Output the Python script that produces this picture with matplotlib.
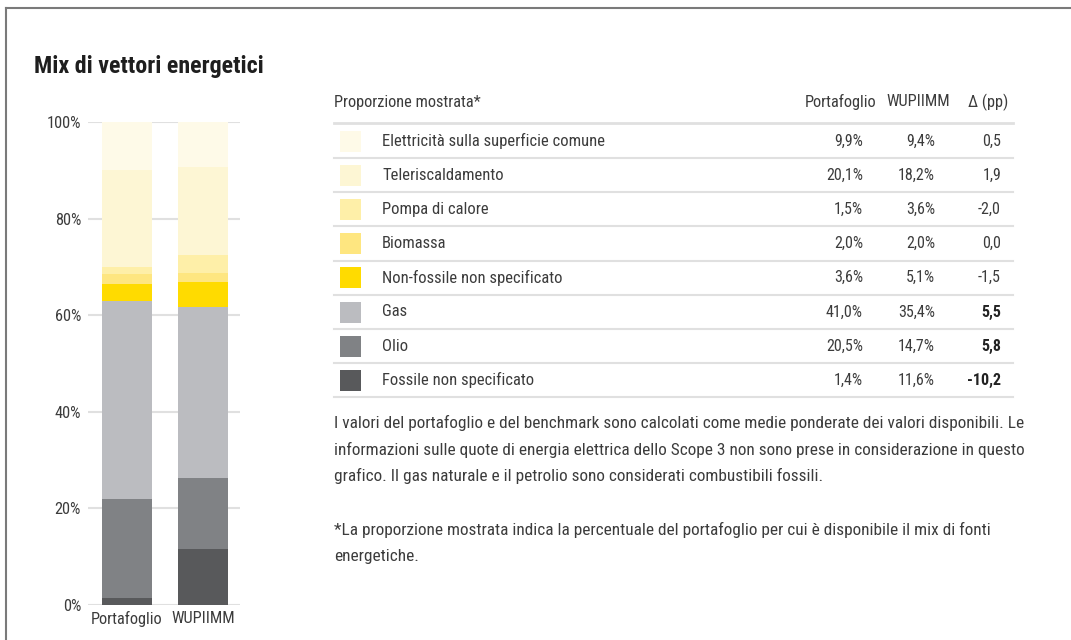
import numpy as np
import matplotlib.pyplot as plt
from matplotlib.patches import Rectangle

plt.rcParams['font.family'] = ['Roboto Condensed', 'Roboto', 'DejaVu Sans']

# dati (ordine della tabella, dall'alto verso il basso)
categorie = ["Elettricità sulla superficie comune", "Teleriscaldamento", "Pompa di calore",
             "Biomassa", "Non-fossile non specificato", "Gas", "Olio", "Fossile non specificato"]
portafoglio = [9.9, 20.1, 1.5, 2.0, 3.6, 41.0, 20.5, 1.4]
wupiimm = [9.4, 18.2, 3.6, 2.0, 5.1, 35.4, 14.7, 11.6]
delta = [0.5, 1.9, -2.0, 0.0, -1.5, 5.5, 5.8, -10.2]
colori = ["#fefae8", "#fdf6d4", "#feefa8", "#fee680", "#ffdb00", "#bbbcc0", "#808285", "#58595b"]
barre = ["Portafoglio", "WUPIIMM"]
note = ["I valori del portafoglio e del benchmark sono calcolati come medie ponderate dei valori disponibili. Le",
        "informazioni sulle quote di energia elettrica dello Scope 3 non sono prese in considerazione in questo",
        "grafico. Il gas naturale e il petrolio sono considerati combustibili fossili.",
        "",
        "*La proporzione mostrata indica la percentuale del portafoglio per cui è disponibile il mix di fonti",
        "energetiche."]

testo = "#3c3c3c"
W, H = 1071, 640
fig = plt.figure(figsize=(W / 100, H / 100), dpi=100)

# asse "a pixel" per cornice, titolo e tabella
bg = fig.add_axes([0, 0, 1, 1])
bg.set_xlim(0, W)
bg.set_ylim(H, 0)
bg.axis("off")
bg.plot([5.5, W], [7.5, 7.5], color="#7a7a7a", lw=1.5)
bg.plot([5.5, 5.5], [7.5, H], color="#7a7a7a", lw=1.5)
bg.text(34, 66, "Mix di vettori energetici", fontsize=17.3, fontweight="bold",
        color="#1e1e1e", va="center")

# intestazione tabella
fs = 12
bg.text(334, 102, "Proporzione mostrata*", fontsize=11.8, color=testo, va="center")
bg.text(876, 102, "Portafoglio", fontsize=11.8, color=testo, va="center", ha="right")
bg.text(950, 102, "WUPIIMM", fontsize=11.8, color=testo, va="center", ha="right")
bg.text(1008, 102, "Δ (pp)", fontsize=11.8, color=testo, va="center", ha="right")
bg.plot([334, 1013], [123, 123], color="#e0e0e0", lw=2)

# righe
for i in range(len(categorie)):
    y = 141 + i * 34.2
    bg.add_patch(Rectangle((340, y - 10.5), 21, 21, color=colori[i], lw=0))
    bg.text(382, y, categorie[i], fontsize=fs, color=testo, va="center")
    bg.text(863, y, f"{portafoglio[i]:.1f}%".replace(".", ","), fontsize=11.5,
            color=testo, va="center", ha="right")
    bg.text(935, y, f"{wupiimm[i]:.1f}%".replace(".", ","), fontsize=11.5,
            color=testo, va="center", ha="right")
    grassetto = abs(delta[i]) >= 5
    bg.text(1001, y, f"{delta[i]:.1f}".replace(".", ","), fontsize=11.5,
            color="#222222" if grassetto else testo, va="center", ha="right",
            fontweight="bold" if grassetto else "normal")
    bg.plot([334, 1013], [y + 17, y + 17], color="#e0e0e0", lw=1.5)

# note
for j, riga in enumerate(note):
    bg.text(334, 423 + j * 26.7, riga, fontsize=12.4, color=testo, va="center")

# grafico a barre impilate
ax = fig.add_axes([88 / W, 1 - 605 / H, 152 / W, (605 - 122) / H])
x = np.arange(len(barre))
base = np.zeros(len(barre))
for i in reversed(range(len(categorie))):
    v = np.array([portafoglio[i], wupiimm[i]])
    ax.bar(x, v, bottom=base, width=0.66, color=colori[i], zorder=2)
    base += v
ax.set_xlim(-0.513, 1.487)
ax.set_ylim(0, 100)
ax.set_yticks(np.arange(0, 101, 20))
ax.set_yticklabels([f"{t}%" for t in range(0, 101, 20)])
ax.set_xticks(x)
ax.set_xticklabels(barre)
ax.grid(axis="y", color="#e0e0e0", lw=1.5, zorder=0)
ax.tick_params(length=0, labelsize=11.8, labelcolor=testo)
ax.tick_params(axis="y", pad=5)
ax.tick_params(axis="x", pad=4)
for s in ax.spines.values():
    s.set_visible(False)
ax.patch.set_alpha(0)

fig.savefig("out.png", dpi=100)
